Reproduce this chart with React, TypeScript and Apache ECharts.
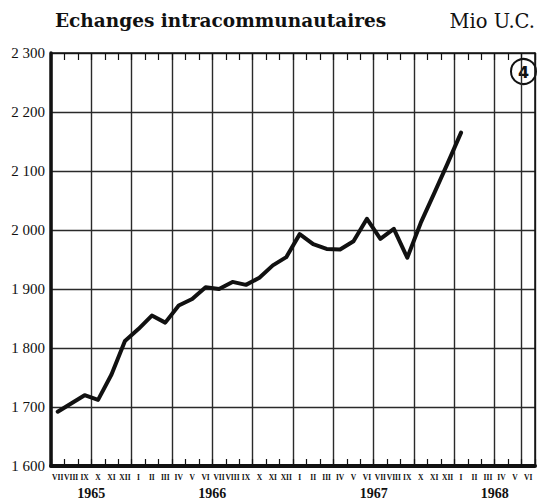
import React, { useEffect, useRef } from "react";
import * as echarts from "echarts";

const monthLabels = [
  "VII", "VIII", "IX", "X", "XI", "XII",
  "I", "II", "III", "IV", "V", "VI", "VII", "VIII", "IX", "X", "XI", "XII",
  "I", "II", "III", "IV", "V", "VI", "VII", "VIII", "IX", "X", "XI", "XII",
  "I", "II", "III", "IV", "V", "VI",
];
const monthYears = [
  1965, 1965, 1965, 1965, 1965, 1965,
  1966, 1966, 1966, 1966, 1966, 1966, 1966, 1966, 1966, 1966, 1966, 1966,
  1967, 1967, 1967, 1967, 1967, 1967, 1967, 1967, 1967, 1967, 1967, 1967,
  1968, 1968, 1968, 1968, 1968, 1968,
];
const values: (number | null)[] = [
  1692, 1706, 1720, 1712, 1755, 1812,
  1832, 1855, 1843, 1872, 1883, 1903, 1900, 1912, 1907, 1919, 1940, 1954,
  1993, 1976, 1968, 1967, 1981, 2019, 1985, 2002, 1953, 2012, 2062, 2113,
  2165, null, null, null, null, null,
];
const yTicks = { min: 1600, max: 2300, step: 100 };
const years = [1965, 1966, 1967, 1968];
const titleText = "Echanges intracommunautaires";
const unitText = "Mio U.C.";
const panelNumber = "4";

const monthKeys = monthLabels.map((m, i) => `${m}-${monthYears[i]}-${i}`);
const boundaryKeys = Array.from({ length: monthLabels.length + 1 }, (_, i) => `b${i}`);
const yearAtBoundary: Record<number, string> = {};
years.forEach((y) => {
  const idx = monthYears.map((v, i) => (v === y ? i : -1)).filter((i) => i >= 0);
  const first = idx[0];
  const last = idx[idx.length - 1];
  yearAtBoundary[Math.round((first + last + 1) / 2)] = String(y);
});

const INK = "#111";
const GRID = "#2a2a2a";

export default function App() {
  const ref = useRef<HTMLDivElement>(null);
  useEffect(() => {
    document.body.style.margin = "0";
    if (!ref.current) return;
    const chart = echarts.init(ref.current, null, { renderer: "svg" });
    const option: any = {
      animation: false,
      backgroundColor: "#fff",
      grid: { left: 51, right: 2, top: 53, bottom: 36, containLabel: false },
      xAxis: [
        {
          type: "category",
          data: monthKeys,
          boundaryGap: true,
          position: "bottom",
          axisLine: { show: true, onZero: false, lineStyle: { color: INK, width: 4 } },
          axisTick: { show: true, inside: true, length: 7, interval: 0, lineStyle: { color: INK, width: 1.2 } },
          axisLabel: {
            interval: 0,
            margin: 7,
            fontFamily: "Liberation Serif",
            fontWeight: "bold",
            fontSize: 7.5,
            color: INK,
            formatter: (v: string) => v.split("-")[0],
          },
          splitLine: { show: true, interval: 2, lineStyle: { color: GRID, width: 1.4 } },
        },
        {
          type: "category",
          data: boundaryKeys,
          boundaryGap: false,
          position: "bottom",
          axisLine: { show: false },
          axisTick: { show: false },
          splitLine: { show: false },
          axisLabel: {
            interval: 0,
            margin: 20,
            fontFamily: "Liberation Serif",
            fontWeight: "bold",
            fontSize: 14,
            color: INK,
            formatter: (_v: string, i: number) => yearAtBoundary[i] || "",
          },
        },
        {
          type: "category",
          data: monthKeys,
          boundaryGap: true,
          position: "top",
          axisLine: { show: true, onZero: false, lineStyle: { color: INK, width: 1.5 } },
          axisTick: { show: true, inside: true, length: 7, interval: 0, lineStyle: { color: INK, width: 1.2 } },
          axisLabel: { show: false },
          splitLine: { show: false },
        },
      ],
      yAxis: [
        {
          type: "value",
          min: yTicks.min,
          max: yTicks.max,
          interval: yTicks.step,
          position: "left",
          axisLine: { show: true, lineStyle: { color: INK, width: 3.5 } },
          axisTick: { show: false },
          splitLine: { show: true, lineStyle: { color: GRID, width: 1.4 } },
          axisLabel: {
            margin: 6,
            fontFamily: "Liberation Serif",
            fontSize: 15,
            color: INK,
            verticalAlign: "middle",
            padding: [0, 0, 8, 0],
            formatter: (v: number) => {
              const s = String(Math.round(v));
              return s.slice(0, s.length - 3) + " " + s.slice(s.length - 3);
            },
          },
        },
        {
          type: "value",
          min: yTicks.min,
          max: yTicks.max,
          interval: yTicks.step,
          position: "right",
          axisLine: { show: true, lineStyle: { color: INK, width: 1.5 } },
          axisTick: { show: false },
          splitLine: { show: false },
          axisLabel: { show: false },
        },
      ],
      series: [
        {
          type: "line",
          xAxisIndex: 0,
          yAxisIndex: 0,
          data: values,
          showSymbol: false,
          symbol: "none",
          connectNulls: false,
          lineStyle: { color: INK, width: 4, join: "round", cap: "round" },
          z: 5,
        },
      ],
      graphic: [
        {
          type: "text",
          left: 55,
          top: 11,
          style: {
            text: titleText,
            font: "bold 18.5px 'DejaVu Serif'",
            fill: INK,
          },
        },
        {
          type: "text",
          right: 3,
          top: 11,
          style: {
            text: unitText,
            font: "19.5px 'DejaVu Serif'",
            fill: INK,
          },
        },
        {
          type: "group",
          left: 510,
          top: 58,
          children: [
            {
              type: "circle",
              shape: { cx: 13, cy: 13, r: 12.5 },
              style: { fill: "#fff", stroke: INK, lineWidth: 2 },
            },
            {
              type: "text",
              x: 13,
              y: 13.5,
              style: {
                text: panelNumber,
                font: "bold 16px 'DejaVu Sans'",
                fill: INK,
                textAlign: "center",
                textVerticalAlign: "middle",
              },
            },
          ],
        },
      ],
    };
    chart.setOption(option);
    return () => chart.dispose();
  }, []);
  return <div ref={ref} style={{ width: 538, height: 502 }} />;
}
